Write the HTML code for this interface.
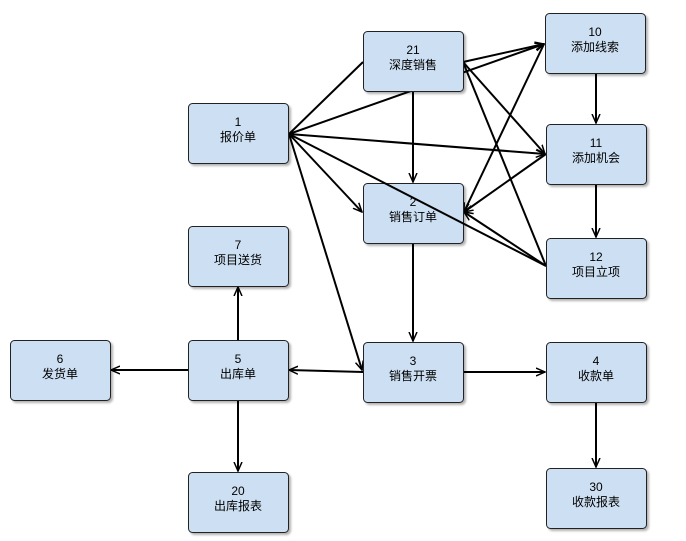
<!DOCTYPE html>
<html><head><meta charset="utf-8"><style>
html,body{margin:0;padding:0;background:#fff;}
svg{display:block;}
text{font-family:"Liberation Sans","WenQuanYi Zen Hei","Noto Sans CJK SC",sans-serif;font-size:12px;fill:#000;text-anchor:middle;}
</style></head><body>
<svg width="686" height="541" viewBox="0 0 686 541" xmlns="http://www.w3.org/2000/svg">
<defs>
<marker id="a" markerWidth="10" markerHeight="10" refX="9" refY="5" orient="auto" markerUnits="userSpaceOnUse">
<path d="M0,1 L9,5 L0,9" fill="none" stroke="#000" stroke-width="1.5"/>
</marker>
<filter id="s" x="-10%" y="-10%" width="130%" height="130%"><feDropShadow dx="2" dy="2" stdDeviation="1" flood-color="#000" flood-opacity="0.3"/></filter>
</defs>
<g stroke="#000" stroke-width="2" fill="none">
<line x1="463" y1="62" x2="544" y2="44" marker-end="url(#a)"/>
<line x1="289" y1="134" x2="544" y2="44" marker-end="url(#a)"/>
<line x1="363" y1="62" x2="289" y2="134"/>
<line x1="413" y1="92" x2="413" y2="182" marker-end="url(#a)"/>
<line x1="289" y1="134" x2="362" y2="212" marker-end="url(#a)"/>
<line x1="289" y1="134" x2="545" y2="154" marker-end="url(#a)"/>
<line x1="289" y1="134" x2="362" y2="370" marker-end="url(#a)"/>
<line x1="463" y1="62" x2="545" y2="154" marker-end="url(#a)"/>
<line x1="463" y1="62" x2="546" y2="266"/>
<line x1="544" y1="44" x2="464" y2="212" marker-end="url(#a)"/>
<line x1="546" y1="154" x2="464" y2="212" marker-end="url(#a)"/>
<line x1="546" y1="266" x2="464" y2="212" marker-end="url(#a)"/>
<line x1="596" y1="73" x2="596" y2="123" marker-end="url(#a)"/>
<line x1="596" y1="184" x2="596" y2="237" marker-end="url(#a)"/>
<line x1="413" y1="243" x2="413" y2="341" marker-end="url(#a)"/>
<line x1="463" y1="372" x2="545" y2="372" marker-end="url(#a)"/>
<line x1="363" y1="372" x2="289" y2="370" marker-end="url(#a)"/>
<line x1="188" y1="370" x2="111" y2="370" marker-end="url(#a)"/>
<line x1="238" y1="340" x2="238" y2="287" marker-end="url(#a)"/>
<line x1="238" y1="400" x2="238" y2="471" marker-end="url(#a)"/>
<line x1="596" y1="402" x2="596" y2="467" marker-end="url(#a)"/>
</g>
<g fill="#cddff2" stroke="#222" stroke-width="1" filter="url(#s)">
<rect x="363.5" y="31.5" width="100" height="60" rx="4"/>
<rect x="545.5" y="13.5" width="100" height="60" rx="4"/>
<rect x="188.5" y="103.5" width="100" height="60" rx="4"/>
<rect x="546.5" y="124.5" width="100" height="60" rx="4"/>
<rect x="363.5" y="183.5" width="100" height="60" rx="4"/>
<rect x="546.5" y="238.5" width="100" height="60" rx="4"/>
<rect x="188.5" y="226.5" width="100" height="60" rx="4"/>
<rect x="10.5" y="340.5" width="100" height="60" rx="4"/>
<rect x="188.5" y="340.5" width="100" height="60" rx="4"/>
<rect x="363.5" y="342.5" width="100" height="60" rx="4"/>
<rect x="546.5" y="342.5" width="100" height="60" rx="4"/>
<rect x="188.5" y="472.5" width="100" height="60" rx="4"/>
<rect x="546.5" y="468.5" width="100" height="60" rx="4"/>
</g>
<line x1="289" y1="134" x2="546" y2="266" stroke="#000" stroke-width="2"/>
<g>
<text x="413" y="54">21</text><text x="413" y="69">深度销售</text>
<text x="595" y="36">10</text><text x="595" y="51">添加线索</text>
<text x="238" y="126">1</text><text x="238" y="141">报价单</text>
<text x="596" y="147">11</text><text x="596" y="162">添加机会</text>
<text x="413" y="206">2</text><text x="413" y="221">销售订单</text>
<text x="596" y="261">12</text><text x="596" y="276">项目立项</text>
<text x="238" y="249">7</text><text x="238" y="264">项目送货</text>
<text x="60" y="363">6</text><text x="60" y="378">发货单</text>
<text x="238" y="363">5</text><text x="238" y="378">出库单</text>
<text x="413" y="365">3</text><text x="413" y="380">销售开票</text>
<text x="596" y="365">4</text><text x="596" y="380">收款单</text>
<text x="238" y="495">20</text><text x="238" y="510">出库报表</text>
<text x="596" y="491">30</text><text x="596" y="506">收款报表</text>
</g>
</svg>
</body></html>
